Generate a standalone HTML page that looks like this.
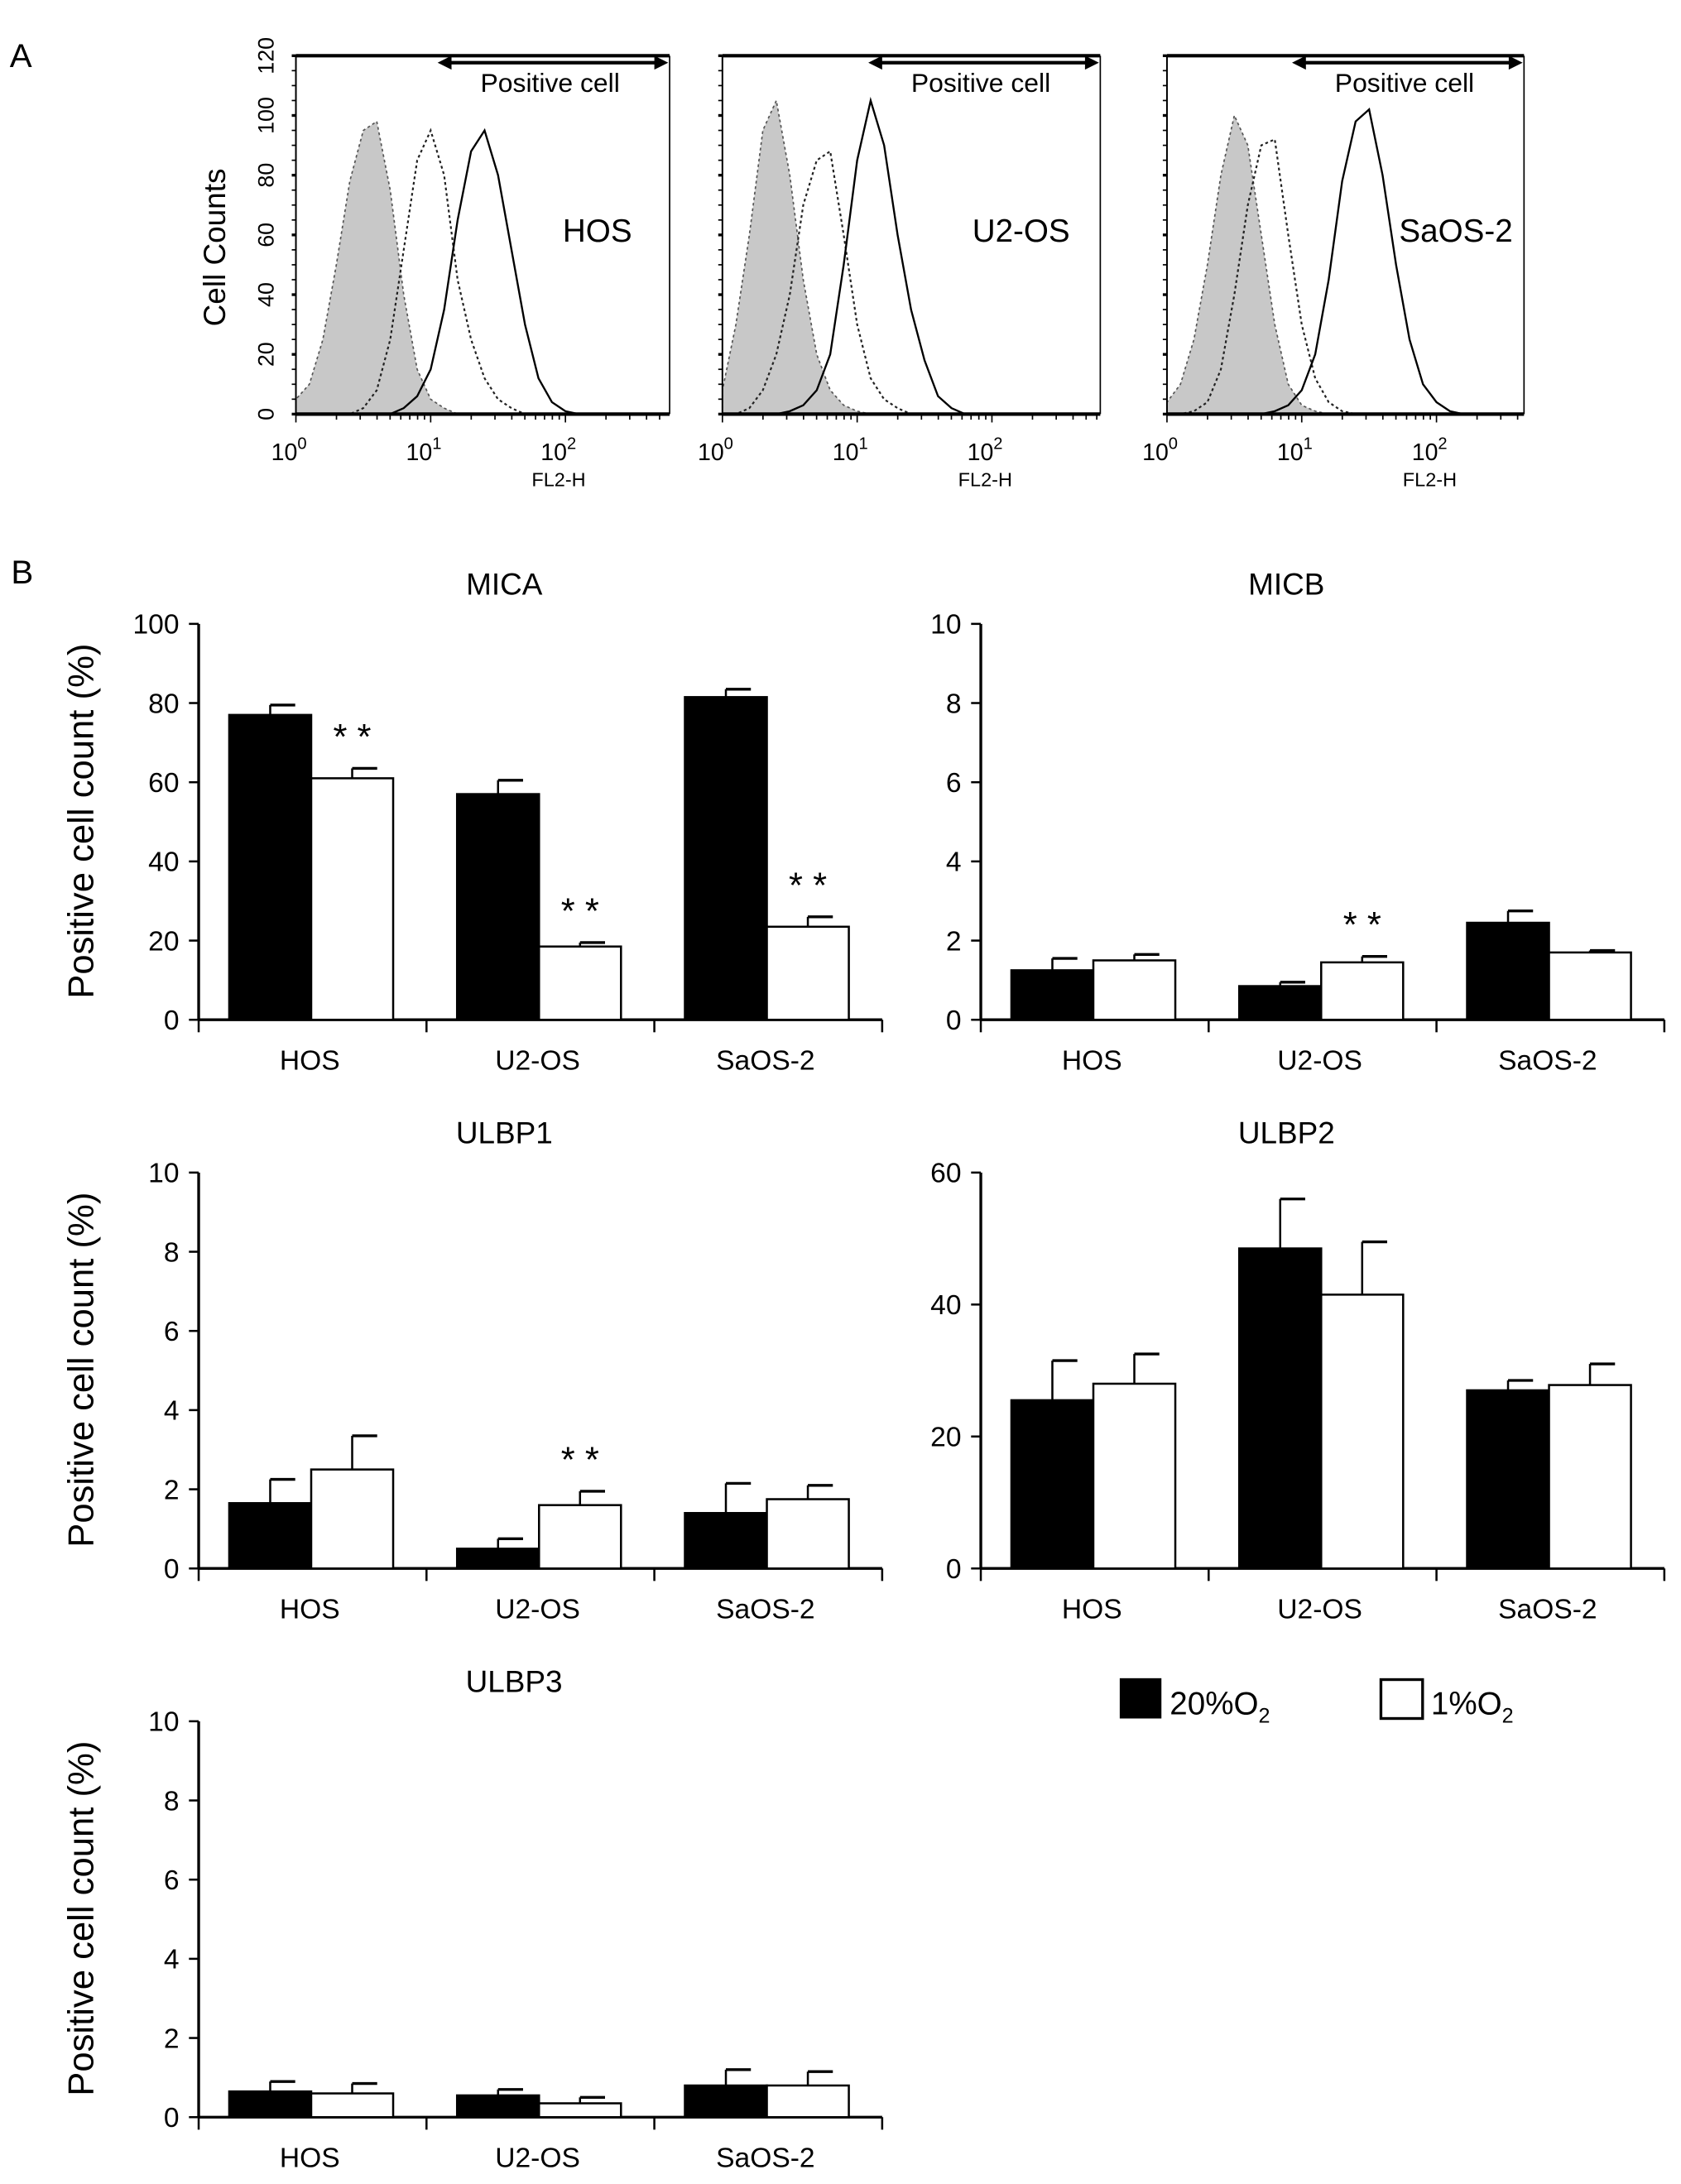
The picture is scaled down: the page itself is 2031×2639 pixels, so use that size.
<!DOCTYPE html>
<html><head><meta charset="utf-8">
<style>
html,body{margin:0;padding:0;background:#fff;}
svg{display:block;font-family:"Liberation Sans",sans-serif;}
</style></head>
<body>
<svg id="fig" width="2031" height="2639" viewBox="0 0 1210 1572" xmlns="http://www.w3.org/2000/svg"></svg>
<script>
// ---- Panel A data (log10 FL2-H positions, cell counts) ----
const logX = [0,0.1,0.2,0.3,0.4,0.5,0.6,0.7,0.8,0.9,1.0,1.1,1.2,1.3,1.4,1.5,1.6,1.7,1.8,1.9,2.0,2.1,2.2,2.3,2.4,2.5,2.6];
const histCells = ["HOS","U2-OS","SaOS-2"];
const hosIso   = [5,10,25,50,78,95,98,75,40,15,5,2,0,0,0,0,0,0,0,0,0,0,0,0,0,0,0];
const hosDot   = [0,0,0,0,0,2,8,25,55,85,95,80,45,25,12,5,2,0,0,0,0,0,0,0,0,0,0];
const hosPos   = [0,0,0,0,0,0,0,0,2,6,15,35,65,88,95,80,55,30,12,4,1,0,0,0,0,0,0];
const u2Iso    = [8,30,60,95,105,80,45,20,8,3,1,0,0,0,0,0,0,0,0,0,0,0,0,0,0,0,0];
const u2Dot    = [0,0,2,8,20,40,70,85,88,60,30,12,5,2,0,0,0,0,0,0,0,0,0,0,0,0,0];
const u2Pos    = [0,0,0,0,0,1,3,8,20,50,85,105,90,60,35,18,6,2,0,0,0,0,0,0,0,0,0];
const saIso    = [4,10,25,50,80,100,90,60,30,10,3,1,0,0,0,0,0,0,0,0,0,0,0,0,0,0,0];
const saDot    = [0,0,1,4,15,40,70,90,92,60,30,12,4,1,0,0,0,0,0,0,0,0,0,0,0,0,0];
const saPos    = [0,0,0,0,0,0,0,0,1,3,8,20,45,78,98,102,80,50,25,10,4,1,0,0,0,0,0];
const histYTicks = [0,20,40,60,80,100,120];
const xDecades = ["0","1","2"];

// ---- Panel B data ----
const cats = ["HOS","U2-OS","SaOS-2"];
const micaHigh = [77,57,81.5],   micaHighErr=[79.5,60.5,83.5];
const micaLow  = [61,18.5,23.5], micaLowErr =[63.5,19.5,26];
const micbHigh = [1.25,0.85,2.45], micbHighErr=[1.55,0.95,2.75];
const micbLow  = [1.5,1.45,1.7],   micbLowErr =[1.65,1.6,1.75];
const ulbp1High= [1.65,0.5,1.4],   ulbp1HighErr=[2.25,0.75,2.15];
const ulbp1Low = [2.5,1.6,1.75],   ulbp1LowErr =[3.35,1.95,2.1];
const ulbp2High= [25.5,48.5,27],   ulbp2HighErr=[31.5,56,28.5];
const ulbp2Low = [28,41.5,27.8],   ulbp2LowErr =[32.5,49.5,31];
const ulbp3High= [0.65,0.55,0.8],  ulbp3HighErr=[0.9,0.7,1.2];
const ulbp3Low = [0.6,0.35,0.8],   ulbp3LowErr =[0.85,0.5,1.15];
const ticks10 = [0,2,4,6,8,10];
const ticks100 = [0,20,40,60,80,100];
const ticks60 = [0,20,40,60];
const micaStars=[true,true,true], micbStars=[false,true,false], ulbp1Stars=[false,true,false], noStars=[false,false,false];

const NS="http://www.w3.org/2000/svg";
const svg=document.getElementById('fig');
function mk(tag,attrs,parent){const e=document.createElementNS(NS,tag);for(const k in attrs)e.setAttribute(k,attrs[k]);(parent||svg).appendChild(e);return e;}
function txt(s,x,y,size,anchor,parent){const t=mk('text',{x:x,y:y,'font-size':size,'text-anchor':anchor||'middle',fill:'#000'},parent);t.textContent=s;return t;}

let lbl=txt("A",15,48,24,'middle');


lbl=txt("B",16,420,24,'middle');



// ---- Histograms ----
const hists=[{x0:213,x1:482,iso:hosIso,dot:hosDot,pos:hosPos,name:"hos",lx:430,yl:true},
             {x0:520,x1:792,iso:u2Iso,dot:u2Dot,pos:u2Pos,name:"u2os",lx:735,yl:false},
             {x0:840,x1:1097,iso:saIso,dot:saDot,pos:saPos,name:"saos2",lx:1048,yl:false}];
const hy0=298, hy1=40;
hists.forEach((h,i)=>{
  const g=mk('g',{});
  
  
  const dec=97;
  const sx=v=>h.x0+v*dec;
  const sy=v=>hy0-v*(hy0-hy1)/120;
  function pts(arr){return logX.map((v,j)=>sx(v).toFixed(1)+','+sy(arr[j]).toFixed(1)).join(' ');}
  const iso=mk('polygon',{points:sx(0)+','+sy(0)+' '+pts(h.iso)+' '+sx(2.6)+','+sy(0),fill:'#c8c8c8',stroke:'#555','stroke-width':1,'stroke-dasharray':'2,2'},g);
  
  
  const dot=mk('polyline',{points:pts(h.dot),fill:'none',stroke:'#222','stroke-width':1.3,'stroke-dasharray':'2,2'},g);
  
  
  const pos=mk('polyline',{points:pts(h.pos),fill:'none',stroke:'#000','stroke-width':1.4},g);
  
  
  mk('line',{x1:h.x0,y1:hy1,x2:h.x1,y2:hy1,stroke:'#000','stroke-width':2.5},g);
  mk('line',{x1:h.x1,y1:hy1,x2:h.x1,y2:hy0,stroke:'#000','stroke-width':1},g);
  mk('line',{x1:h.x0,y1:hy1,x2:h.x0,y2:hy0,stroke:'#000','stroke-width':1.2},g);
  mk('line',{x1:h.x0,y1:hy0,x2:h.x1,y2:hy0,stroke:'#000','stroke-width':2.5},g);
  for(let v=0;v<=120;v+=5){mk('line',{x1:h.x0-3,y1:sy(v),x2:h.x0,y2:sy(v),stroke:'#000','stroke-width':v%20==0?2:1},g);}
  for(let d=0;d<3;d++)for(let m=1;m<10;m++){const xx=sx(d+Math.log10(m));if(xx<=h.x1)mk('line',{x1:xx,y1:hy0,x2:xx,y2:hy0+(m==1?6:4),stroke:'#000','stroke-width':1},g);}
  xDecades.forEach(d=>{const t=txt('10',sx(+d)-5,331,17,'middle',g);const s=mk('tspan',{dy:-8,'font-size':12},t);s.textContent=d;});
  txt('FL2-H',sx(1.95),350,14,'middle',g);
  if(h.yl){histYTicks.forEach(v=>{const t=txt(String(v),0,0,16,'middle',g);t.setAttribute('transform','translate(197,'+sy(v)+') rotate(-90)');});}
  const ax=h.x1-167;
  mk('line',{x1:ax+8,y1:45,x2:h.x1-8,y2:45,stroke:'#000','stroke-width':2.5},g);
  mk('polygon',{points:(ax)+',45 '+(ax+10)+',40 '+(ax+10)+',50',fill:'#000'},g);
  mk('polygon',{points:(h.x1-1)+',45 '+(h.x1-11)+',40 '+(h.x1-11)+',50',fill:'#000'},g);
  const pc=txt('Positive cell',h.x1-86,66,19,'middle',g);
  
  
  txt(histCells[i],h.lx,174,23,'middle',g);
});
const cc=txt('Cell Counts',0,0,22,'middle');
cc.setAttribute('transform','translate(162,178) rotate(-90)');



// ---- Bar charts ----
function barChart(name,title,x0,y0,ymax,ticks,high,highErr,low,lowErr,stars,ylabel){
  const g=mk('g',{});
  
  
  const h=285, gw=164, bw=59, off=22;
  const sy=v=>y0-v/ymax*h;
  const t=txt(title,x0+(name.startsWith('ulbp3')?227:220),y0-306,22,'middle',g);
  
  
  mk('line',{x1:x0,y1:y0-h,x2:x0,y2:y0,stroke:'#000','stroke-width':2},g);
  mk('line',{x1:x0,y1:y0,x2:x0+3*gw,y2:y0,stroke:'#000','stroke-width':2},g);
  ticks.forEach(v=>{mk('line',{x1:x0-7,y1:sy(v),x2:x0,y2:sy(v),stroke:'#000','stroke-width':1.5},g);
    const tl=txt(String(v),x0-14,sy(v)+7,20,'end',g);
    
    });
  for(let k=0;k<=3;k++)mk('line',{x1:x0+k*gw,y1:y0,x2:x0+k*gw,y2:y0+9,stroke:'#000','stroke-width':1.5},g);
  cats.forEach((c,k)=>{
    const gx=x0+k*gw;
    const xl=txt(c,gx+gw/2-2,y0+36,20,'middle',g);
    
    
    [[high,highErr,'#000'],[low,lowErr,'#fff']].forEach((s,j)=>{
      const bx=gx+off+j*bw, v=s[0][k], e=s[1][k];
      mk('line',{x1:bx+bw/2,y1:sy(e),x2:bx+bw/2,y2:sy(v),stroke:'#000','stroke-width':1.5},g);
      mk('line',{x1:bx+bw/2,y1:sy(e),x2:bx+bw/2+18,y2:sy(e),stroke:'#000','stroke-width':2},g);
      const r=mk('rect',{x:bx,y:sy(v),width:bw,height:y0-sy(v),fill:s[2],stroke:'#000','stroke-width':1.5},g);
      
      
    });
    if(stars[k]){const st=txt('* *',gx+off+bw*1.5,sy(lowErr[k])-14,26,'middle',g);
      
      }
  });
  if(ylabel){const yl=txt('Positive cell count (%)',0,0,26,'middle',g);
    yl.setAttribute('transform','translate('+(x0-76)+','+(y0-143)+') rotate(-90)');
    
    }
}
barChart('mica','MICA',143,734,100,ticks100,micaHigh,micaHighErr,micaLow,micaLowErr,micaStars,true);
barChart('micb','MICB',706,734,10,ticks10,micbHigh,micbHighErr,micbLow,micbLowErr,micbStars,false);
barChart('ulbp1','ULBP1',143,1129,10,ticks10,ulbp1High,ulbp1HighErr,ulbp1Low,ulbp1LowErr,ulbp1Stars,true);
barChart('ulbp2','ULBP2',706,1129,60,ticks60,ulbp2High,ulbp2HighErr,ulbp2Low,ulbp2LowErr,noStars,false);
barChart('ulbp3','ULBP3',143,1524,10,ticks10,ulbp3High,ulbp3HighErr,ulbp3Low,ulbp3LowErr,noStars,true);

// ---- Legend ----
const lg=mk('g',{});


const l1=mk('rect',{x:806,y:1208,width:30,height:29,fill:'#000'},lg);


let lt=txt('20%O',842,1234,23,'start',lg);
let sb=mk('tspan',{dy:6,'font-size':15},lt);sb.textContent='2';
const l2=mk('rect',{x:994,y:1209,width:30,height:28,fill:'#fff',stroke:'#000','stroke-width':2},lg);


lt=txt('1%O',1030,1234,23,'start',lg);
sb=mk('tspan',{dy:6,'font-size':15},lt);sb.textContent='2';
</script>
</body></html>
